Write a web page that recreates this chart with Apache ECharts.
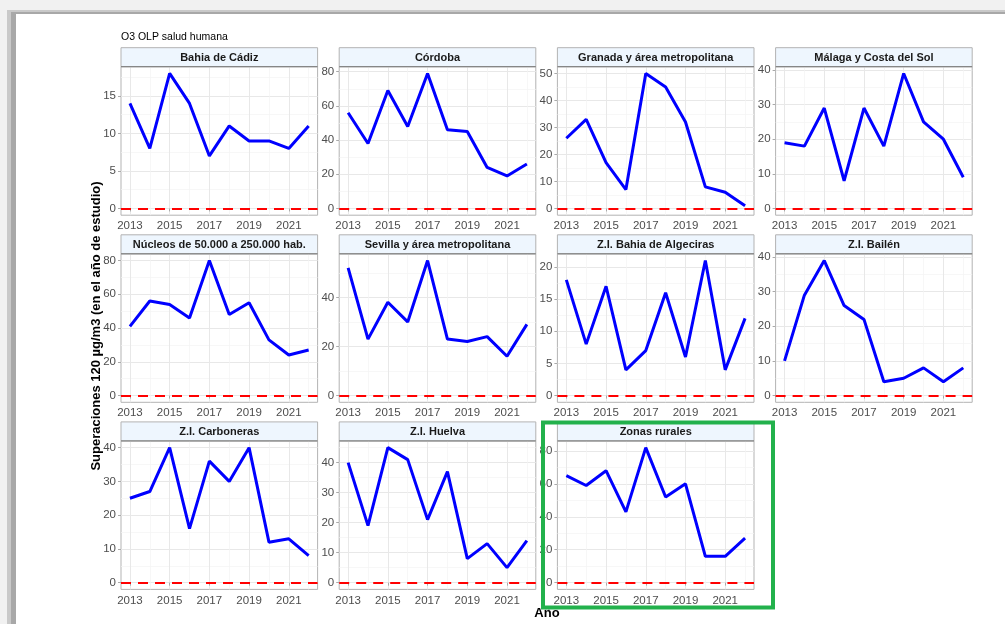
<!DOCTYPE html>
<html><head><meta charset="utf-8">
<script src="https://cdn.jsdelivr.net/npm/echarts@6/dist/echarts.min.js"></script>
<style>
html,body{margin:0;padding:0;background:#f1f1f1;overflow:hidden}
#f1{position:absolute;left:7px;top:10px;right:0;bottom:0;background:#c9c9c9}
#f2{position:absolute;left:11px;top:12px;right:0;bottom:0;background:#a8a8a8}
#f3{position:absolute;left:16px;top:14px;right:0;bottom:0;background:#ffffff}
#c{position:absolute;left:0;top:0;width:1005px;height:624px}
</style>
</head><body>
<div id="f1"></div><div id="f2"></div><div id="f3"></div>
<div id="c"></div>
<script>
// ---------- data ----------
const years = [2013, 2014, 2015, 2016, 2017, 2018, 2019, 2020, 2021, 2022];
const xTickLabels = [2013, 2015, 2017, 2019, 2021];
const xMinorTicks = [2014, 2016, 2018, 2020, 2022];

const panelNames = [
  'Bahia de Cádiz', 'Córdoba', 'Granada y área metropolitana', 'Málaga y Costa del Sol',
  'Núcleos de 50.000 a 250.000 hab.', 'Sevilla y área metropolitana', 'Z.I. Bahia de Algeciras', 'Z.I. Bailén',
  'Z.I. Carboneras', 'Z.I. Huelva', 'Zonas rurales'
];

const bahiaCadiz   = [14, 8, 18, 14, 7, 11, 9, 9, 8, 11];
const cordoba      = [56, 38, 69, 48, 79, 46, 45, 24, 19, 26];
const granada      = [26, 33, 17, 7, 50, 45, 32, 8, 6, 1];
const malaga       = [19, 18, 29, 8, 29, 18, 39, 25, 20, 9];
const nucleos      = [41, 56, 54, 46, 80, 48, 55, 33, 24, 27];
const sevilla      = [52, 23, 38, 30, 55, 23, 22, 24, 16, 29];
const algeciras    = [18, 8, 17, 4, 7, 16, 6, 21, 4, 12];
const bailen       = [10, 29, 39, 26, 22, 4, 5, 8, 4, 8];
const carboneras   = [25, 27, 40, 16, 36, 30, 40, 12, 13, 8];
const huelva       = [40, 19, 45, 41, 21, 37, 8, 13, 5, 14];
const rurales      = [65, 59, 68, 43, 82, 52, 60, 16, 16, 27];

const ticksCadiz      = [0, 5, 10, 15];
const ticksCordoba    = [0, 20, 40, 60, 80];
const ticksGranada    = [0, 10, 20, 30, 40, 50];
const ticksMalaga     = [0, 10, 20, 30, 40];
const ticksNucleos    = [0, 20, 40, 60, 80];
const ticksSevilla    = [0, 20, 40];
const ticksAlgeciras  = [0, 5, 10, 15, 20];
const ticksBailen     = [0, 10, 20, 30, 40];
const ticksCarboneras = [0, 10, 20, 30, 40];
const ticksHuelva     = [0, 10, 20, 30, 40];
const ticksRurales    = [0, 20, 40, 60, 80];

const referenceLevel = 0;

const panelValues = [bahiaCadiz, cordoba, granada, malaga, nucleos, sevilla, algeciras, bailen, carboneras, huelva, rurales];
const panelTicks = [ticksCadiz, ticksCordoba, ticksGranada, ticksMalaga, ticksNucleos, ticksSevilla, ticksAlgeciras, ticksBailen, ticksCarboneras, ticksHuelva, ticksRurales];

// ---------- layout ----------
const FONT = '"Liberation Sans", Arial, Helvetica, sans-serif';
const L0 = 121, COLP = 218.2, PW = 196.6;
const T0 = 66.7, ROWP = 187.1, PH = 148.5, STRIPH = 19;
const X_MIN = years[0] - 0.05 * (years[years.length - 1] - years[0]);
const X_MAX = years[years.length - 1] + 0.05 * (years[years.length - 1] - years[0]);

const grids = [], xAxes = [], yAxes = [], series = [], graphics = [];

panelNames.forEach((name, i) => {
  const r = Math.floor(i / 4), c = i % 4;
  const left = L0 + c * COLP, top = T0 + r * ROWP;
  const vals = panelValues[i], ticks = panelTicks[i];
  const vmax = Math.max(...vals, referenceLevel), vmin = Math.min(...vals, referenceLevel);
  const pad = 0.05 * (vmax - vmin);
  const ymin = vmin - pad, ymax = vmax + pad;
  const step = ticks[1] - ticks[0];
  const yMinor = [];
  for (let k = -1; k < ticks.length; k++) {
    const v = ticks[0] + step * (k + 0.5);
    if (v > ymin && v < ymax) yMinor.push(v);
  }

  grids.push({ left, top, width: PW, height: PH, show: true, backgroundColor: '#ffffff',
    borderColor: '#b3b3b3', borderWidth: 1, containLabel: false });

  // minor x (index 2i), major x (2i+1)
  xAxes.push({ type: 'value', gridIndex: i, position: 'bottom', offset: 0, min: X_MIN, max: X_MAX,
    axisLine: { show: false }, axisLabel: { show: false },
    axisTick: { show: false, customValues: xMinorTicks },
    splitLine: { show: true, lineStyle: { color: '#f3f3f3', width: 0.7 } } });
  xAxes.push({ type: 'value', gridIndex: i, position: 'bottom', offset: 0, min: X_MIN, max: X_MAX,
    axisLine: { show: false },
    axisLabel: { customValues: xTickLabels, color: '#4d4d4d', fontSize: 11.5, fontFamily: FONT, margin: 5,
      formatter: v => String(v) },
    axisTick: { show: true, customValues: xTickLabels, length: 3, lineStyle: { color: '#aaaaaa' } },
    splitLine: { show: true, lineStyle: { color: '#e8e8e8', width: 1 } } });

  yAxes.push({ type: 'value', gridIndex: i, position: 'left', offset: 0, min: ymin, max: ymax,
    axisLine: { show: false }, axisLabel: { show: false },
    axisTick: { show: false, customValues: yMinor },
    splitLine: { show: true, lineStyle: { color: '#f3f3f3', width: 0.7 } } });
  yAxes.push({ type: 'value', gridIndex: i, position: 'left', offset: 0, min: ymin, max: ymax,
    axisLine: { show: false },
    axisLabel: { customValues: ticks, color: '#4d4d4d', fontSize: 11.5, fontFamily: FONT, margin: 5,
      formatter: v => String(v) },
    axisTick: { show: true, customValues: ticks, length: 3, lineStyle: { color: '#aaaaaa' } },
    splitLine: { show: true, lineStyle: { color: '#e8e8e8', width: 1 } } });

  series.push({
    type: 'line', name, xAxisIndex: 2 * i + 1, yAxisIndex: 2 * i + 1,
    data: years.map((y, k) => [y, vals[k]]),
    symbol: 'none', silent: true, animation: false, z: 3,
    lineStyle: { color: '#0000ff', width: 3 }, itemStyle: { color: '#0000ff' },
    markLine: { silent: true, symbol: 'none', animation: false, label: { show: false },
      lineStyle: { color: '#ff0000', type: [10, 7], width: 2.2 },
      emphasis: { disabled: true },
      data: [{ yAxis: referenceLevel }] }
  });

  // strip
  graphics.push({ type: 'rect', z: 10, shape: { x: left, y: top - STRIPH, width: PW, height: STRIPH },
    style: { fill: '#eef6fe', stroke: '#b3b3b3', lineWidth: 1 } });
  graphics.push({ type: 'line', z: 11, shape: { x1: left, y1: top, x2: left + PW, y2: top },
    style: { stroke: '#7a7a7a', lineWidth: 1 } });
  graphics.push({ type: 'text', z: 12, x: left + PW / 2, y: top - STRIPH / 2 + 0.5,
    style: { text: name, fontSize: 11, fontWeight: 'bold', fontFamily: FONT, fill: '#1a1a1a',
      align: 'center', verticalAlign: 'middle' } });
});

// titles
graphics.push({ type: 'text', z: 12, x: 121, y: 37.5,
  style: { text: 'O3 OLP salud humana', fontSize: 10.5, fontFamily: FONT, fill: '#000',
    align: 'left', verticalAlign: 'middle' } });
graphics.push({ type: 'text', z: 12, x: 96, y: 326, rotation: Math.PI / 2,
  style: { text: 'Superaciones 120 µg/m3 (en el año de estudio)', fontSize: 13, fontWeight: 'bold',
    fontFamily: FONT, fill: '#000', align: 'center', verticalAlign: 'middle' } });
graphics.push({ type: 'text', z: 12, x: 547, y: 613,
  style: { text: 'Año', fontSize: 13, fontWeight: 'bold', fontFamily: FONT, fill: '#000',
    align: 'center', verticalAlign: 'middle' } });

// green highlight box around last panel
graphics.push({ type: 'rect', z: 50, shape: { x: 543, y: 422.5, width: 230, height: 185 },
  style: { fill: 'none', stroke: '#22b14c', lineWidth: 4 } });

const chart = echarts.init(document.getElementById('c'), null, { renderer: 'canvas' });
chart.setOption({
  animation: false,
  backgroundColor: 'transparent',
  grid: grids, xAxis: xAxes, yAxis: yAxes, series, graphic: graphics
});
</script>
</body></html>
